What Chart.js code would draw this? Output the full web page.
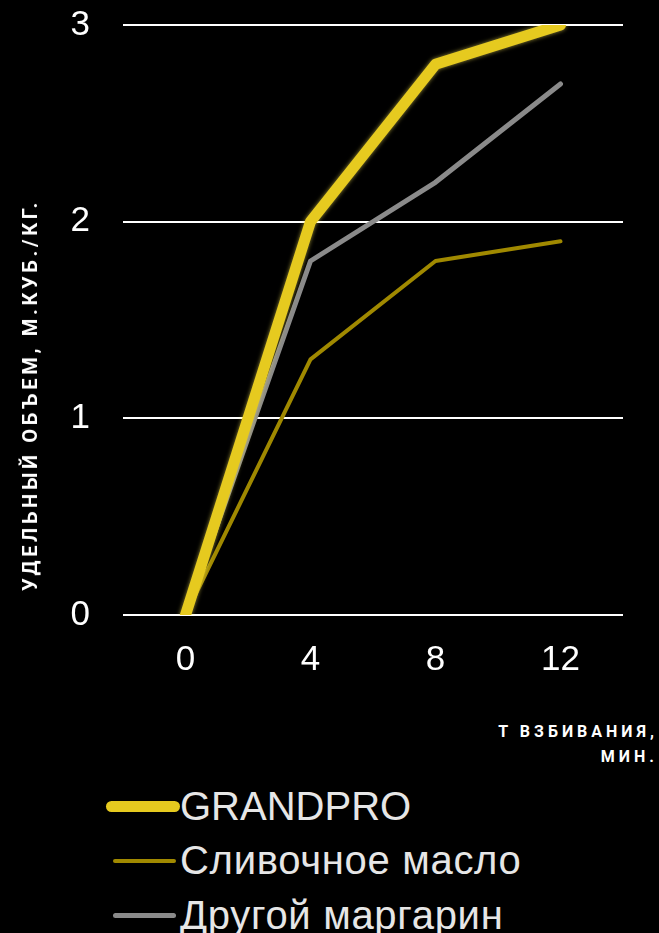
<!DOCTYPE html>
<html>
<head>
<meta charset="utf-8">
<script src="https://cdn.jsdelivr.net/npm/chart.js@4"></script>
<style>
  html, body { margin: 0; padding: 0; background: #000; }
  body { width: 659px; height: 933px; position: relative; overflow: hidden; font-family: "Liberation Sans", Arial, sans-serif; }
  #wrap { position: absolute; left: 0; top: -29px; width: 659px; height: 748px; }
  .ytitle {
    position: absolute; left: 30px; top: 395px;
    transform: translate(-50%, -50%) rotate(-90deg);
    white-space: nowrap; color: #fff; font: bold 20px "Roboto", "Liberation Sans", sans-serif; letter-spacing: 3.7px;
  }
  .xtitle {
    position: absolute; right: 1px; top: 719px; text-align: right;
    color: #fff; font: bold 16px "Roboto", "Liberation Sans", sans-serif; letter-spacing: 4px; line-height: 25px;
  }
  #legend { position: absolute; left: 0; top: 781px; }
  .item { position: absolute; left: 0; height: 50px; display: flex; align-items: center; white-space: nowrap; }
  .swatch { border-radius: 6px; }
  .label { color: #e6e6e6; font: 40px "Liberation Sans", Arial, sans-serif; }
</style>
</head>
<body>
<div id="wrap"><canvas id="chart"></canvas></div>
<div class="ytitle">УДЕЛЬНЫЙ ОБЪЕМ, М.КУБ./КГ.</div>
<div class="xtitle">Т ВЗБИВАНИЯ,<br>МИН.</div>
<div id="legend"></div>
<script>
const minutes = ['0', '4', '8', '12'];
const seriesNames = ['GRANDPRO', 'Сливочное масло', 'Другой маргарин'];
const grandpro = [0, 2.0, 2.8, 3.0];
const butter = [0, 1.3, 1.8, 1.9];
const margarine = [0, 1.8, 2.2, 2.7];
const yTicks = [0, 1, 2, 3];

const colors = ['#e6ca1f', '#a08900', '#8a8a8a'];
const widths = [11, 4, 5];

const glow = {
  id: 'glow',
  beforeDatasetDraw(chart, args) {
    if (args.index !== 0) return;
    chart.ctx.save();
    chart.ctx.shadowColor = 'rgba(255, 235, 90, 0.6)';
    chart.ctx.shadowBlur = 4;
  },
  afterDatasetDraw(chart, args) {
    if (args.index === 0) chart.ctx.restore();
  }
};

const series = [grandpro, butter, margarine];
new Chart(document.getElementById('chart'), {
  type: 'line',
  data: {
    labels: minutes,
    datasets: series.map((d, i) => ({
      label: seriesNames[i],
      data: d,
      borderColor: colors[i],
      backgroundColor: colors[i],
      borderWidth: widths[i],
      borderCapStyle: 'round',
      borderJoinStyle: 'round',
      pointRadius: 0,
      tension: 0,
      order: i
    }))
  },
  options: {
    responsive: true,
    maintainAspectRatio: false,
    animation: false,
    layout: { padding: { top: 3, right: 36, bottom: 14, left: 0 } },
    plugins: { legend: { display: false }, tooltip: { enabled: false } },
    scales: {
      x: {
        type: 'category',
        offset: true,
        grid: { display: false, drawTicks: false },
        border: { display: false },
        ticks: { color: '#fff', font: { family: '"Liberation Sans", Arial', size: 35 }, padding: 24 }
      },
      y: {
        min: yTicks[0],
        max: yTicks[yTicks.length - 1],
        afterBuildTicks: (s) => { s.ticks = yTicks.map(v => ({ value: v })); },
        afterFit: (s) => { s.width = 123; },
        grid: { color: '#ffffff', lineWidth: 2, drawTicks: false },
        border: { display: false },
        ticks: { color: '#fff', font: { family: '"Liberation Sans", Arial', size: 35 }, padding: 33 }
      }
    }
  },
  plugins: [glow]
});

const legend = document.getElementById('legend');
const swatchW = [74, 63, 63];
const swatchL = [106, 113, 113];
const tracking = ['0px', '0.7px', '0.7px'];
seriesNames.forEach((name, i) => {
  const item = document.createElement('div');
  item.className = 'item';
  item.style.top = (i * 54.5) + 'px';
  const sw = document.createElement('div');
  sw.className = 'swatch';
  sw.style.width = swatchW[i] + 'px';
  sw.style.height = widths[i] + 'px';
  sw.style.background = colors[i];
  sw.style.marginLeft = swatchL[i] + 'px';
  sw.style.marginRight = (180 - swatchL[i] - swatchW[i]) + 'px';
  const lb = document.createElement('span');
  lb.className = 'label';
  lb.style.letterSpacing = tracking[i];
  lb.textContent = name;
  item.appendChild(sw);
  item.appendChild(lb);
  legend.appendChild(item);
});
</script>
</body>
</html>
